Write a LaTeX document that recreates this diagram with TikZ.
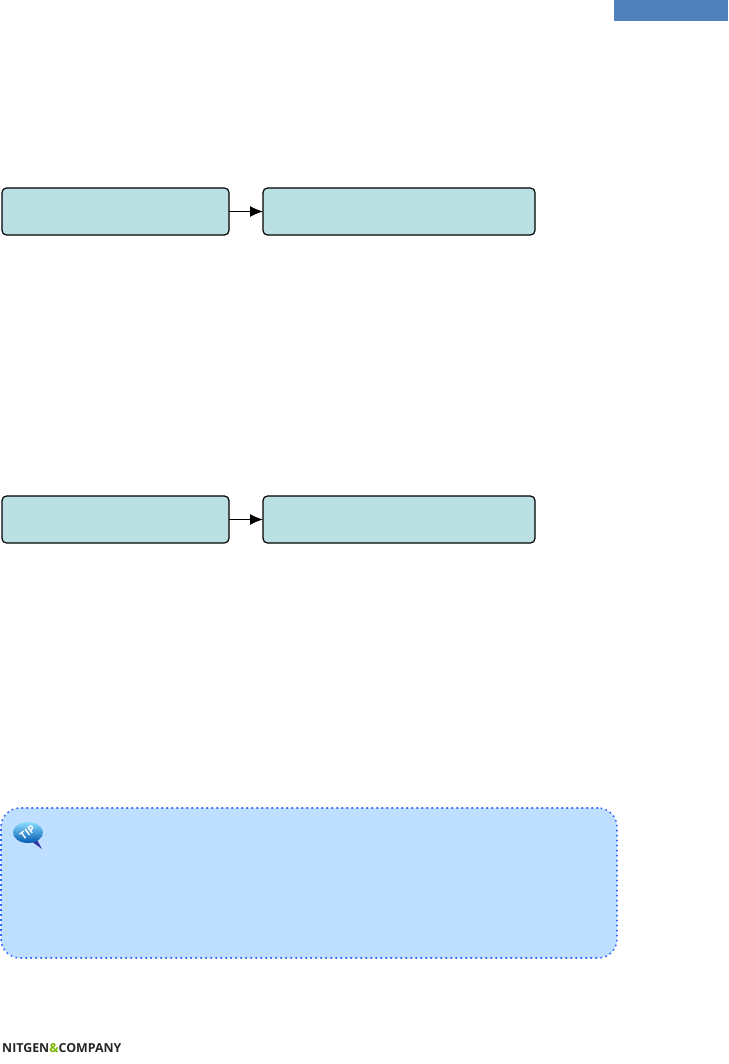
\documentclass[tikz,border=0pt]{standalone}
\usepackage{fontspec}
\setsansfont{Open Sans}
\usepackage{tikz}
\usetikzlibrary{positioning, arrows.meta}
\definecolor{stepfill}{HTML}{BBE0E3}
\definecolor{tipfill}{HTML}{BEDFFF}
\definecolor{tipdots}{HTML}{3366FF}
\definecolor{tabblue}{HTML}{4F81BD}
\definecolor{logogreen}{HTML}{7AB800}
\begin{document}
\begin{tikzpicture}[node distance=34pt]
      \tikzset{
        stepbox/.style={
          draw=black, line width=1.2pt, rounded corners=4.5pt, minimum height=47pt,
          fill=stepfill, inner sep=0pt, outer sep=0pt
        },
        stepleft/.style={stepbox, minimum width=227pt},
        stepright/.style={stepbox, minimum width=272pt},
        flow/.style={draw=black, line width=1.2pt, -{Latex[length=13pt, width=11pt]}},
        tipbox/.style={
          draw=tipdots, line width=1.6pt, dash pattern=on 1.6pt off 3.4pt,
          rounded corners=19pt, fill=tipfill, minimum width=616pt, minimum height=150pt,
          inner sep=0pt, outer sep=0pt
        }
      }
      \useasboundingbox (0,0) rectangle (728pt,-1064pt);
      \fill[tabblue] (614pt,0) rectangle (728pt,-21pt);
      \node[stepleft, anchor=north west] (a1) at (2pt,-188pt) {};
      \node[stepright, right=of a1] (a2) {};
      \draw[flow] (a1) -- (a2);
      \node[stepleft, anchor=north west] (b1) at (2pt,-496pt) {};
      \node[stepright, right=of b1] (b2) {};
      \draw[flow] (b1) -- (b2);
      \node[tipbox, anchor=north west] (tip) at (1pt,-808pt) {};
      % speech bubble
      \fill[blue!55!black!80] (31pt,-841pt) -- (42pt,-849pt) -- (36pt,-838pt) -- cycle;
      \shade[top color=blue!30!cyan!45, bottom color=blue!50!cyan!70!black]
        (28pt,-832.5pt) ellipse (15pt and 10.5pt);
      \node[white, font=\sffamily\bfseries, scale=1.05, rotate=35, inner sep=0pt] (tiplabel) at (27.5pt,-832.5pt) {TIP};
      \node[anchor=south west, inner sep=0pt, font=\sffamily\bfseries\fontsize{12.4}{14}\selectfont, text=black!85] (logo)
        at (2pt,-1053pt) {NITGEN\textcolor{logogreen}{\&}COMPANY};
    \end{tikzpicture}
\end{document}
